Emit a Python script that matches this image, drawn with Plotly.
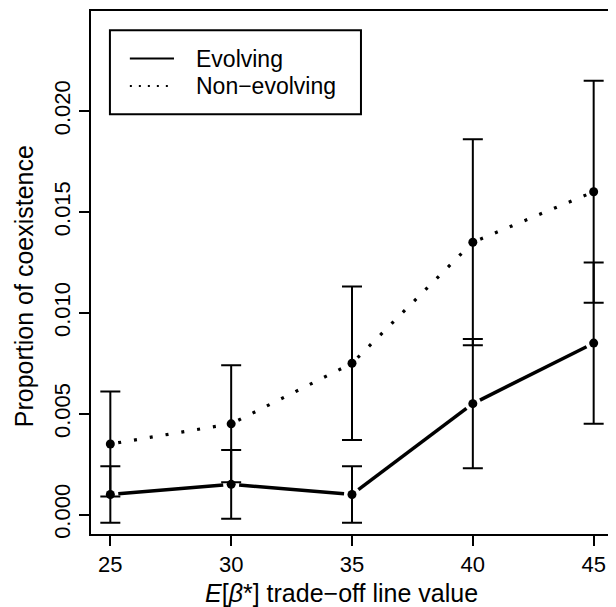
import math
import plotly.graph_objects as go

# ---- data ----
trade_off = [25, 30, 35, 40, 45]
evolving = [0.0010, 0.0015, 0.0010, 0.0055, 0.0085]
evolving_err = [0.0014, 0.0017, 0.0014, 0.0032, 0.0040]
non_evolving = [0.0035, 0.0045, 0.0075, 0.0135, 0.0160]
non_evolving_err = [0.0026, 0.0029, 0.0038, 0.0051, 0.0055]
y_ticks = [0.000, 0.005, 0.010, 0.015, 0.020]
y_tick_text = ["0.000", "0.005", "0.010", "0.015", "0.020"]
x_ticks = [25, 30, 35, 40, 45]
series_names = ["Evolving", "Non\u2212evolving"]

# ---- layout geometry (page has an 8px body margin) ----
OFF = 8
FIG_W, FIG_H = 608, 599
M_L, M_R, M_T, M_B = 83, 1, 1, 73
PW = FIG_W - M_L - M_R
PH = FIG_H - M_T - M_B
XR = [24.2, 45.8]
YR = [-0.00096, 0.02496]
FONT = "Liberation Sans, Arial, Helvetica, sans-serif"
FS_TICK = 22
FS_LEG = 23
FS_TITLE = 25


def px(page_x):
    return (page_x - OFF - M_L) / PW


def py(page_y):
    return 1 - (page_y - OFF - M_T) / PH


def gapped(xs, ys, gap=8.0):
    """Line segments between points, leaving a gap around each point (R type='b')."""
    sx = PW / (XR[1] - XR[0])
    sy = PH / (YR[1] - YR[0])
    ox, oy = [], []
    for i in range(len(xs) - 1):
        x0, y0, x1, y1 = xs[i], ys[i], xs[i + 1], ys[i + 1]
        L = math.hypot((x1 - x0) * sx, (y1 - y0) * sy)
        if L <= 2 * gap:
            continue
        f = gap / L
        ox += [x0 + f * (x1 - x0), x1 - f * (x1 - x0), None]
        oy += [y0 + f * (y1 - y0), y1 - f * (y1 - y0), None]
    return ox, oy


fig = go.Figure()

ex, ey = gapped(trade_off, evolving)
nx, ny = gapped(trade_off, non_evolving)

fig.add_trace(go.Scatter(x=ex, y=ey, mode="lines", name=series_names[0], showlegend=False,
                         line=dict(color="black", width=3.5), connectgaps=False))
fig.add_trace(go.Scatter(x=nx, y=ny, mode="lines", name=series_names[1], showlegend=False,
                         line=dict(color="black", width=3.2, dash="3px,13px"),
                         connectgaps=False))

fig.add_trace(go.Scatter(x=trade_off, y=non_evolving, mode="markers", showlegend=False,
                         marker=dict(color="black", size=9),
                         error_y=dict(type="data", array=non_evolving_err, symmetric=True,
                                      color="black", thickness=2, width=10)))
fig.add_trace(go.Scatter(x=trade_off, y=evolving, mode="markers", showlegend=False,
                         marker=dict(color="black", size=9),
                         error_y=dict(type="data", array=evolving_err, symmetric=True,
                                      color="black", thickness=2, width=10)))

# legend (R-style box)
legend_shapes = [
    dict(type="rect", xref="paper", yref="paper", x0=px(110), x1=px(362),
         y0=py(112.7), y1=py(28.3), line=dict(color="black", width=2),
         fillcolor="white", layer="above"),
    dict(type="line", xref="paper", yref="paper", x0=px(130), x1=px(174.3),
         y0=py(56.7), y1=py(56.7), line=dict(color="black", width=2), layer="above"),
    dict(type="line", xref="paper", yref="paper", x0=px(130), x1=px(174.3),
         y0=py(84.3), y1=py(84.3), line=dict(color="black", width=2, dash="2px,7px"),
         layer="above"),
]
legend_text = [
    dict(text=series_names[0], xref="paper", yref="paper", x=px(194), y=py(56.7),
         xanchor="left", yanchor="middle", showarrow=False,
         font=dict(family=FONT, size=FS_LEG)),
    dict(text=series_names[1], xref="paper", yref="paper", x=px(194), y=py(84.3),
         xanchor="left", yanchor="middle", showarrow=False,
         font=dict(family=FONT, size=FS_LEG)),
]

fig.update_layout(
    width=FIG_W, height=FIG_H,
    margin=dict(l=M_L, r=M_R, t=M_T, b=M_B, pad=0),
    paper_bgcolor="white", plot_bgcolor="white",
    font=dict(family=FONT, size=FS_TICK, color="black"),
    showlegend=False,
    xaxis=dict(range=XR, tickmode="array", tickvals=x_ticks, ticks="outside",
               ticklen=10, tickwidth=2, tickcolor="black", showgrid=False, zeroline=False,
               showline=True, linewidth=2, linecolor="black", mirror=True,
               tickfont=dict(family=FONT, size=FS_TICK)),
    yaxis=dict(range=YR, tickmode="array", tickvals=y_ticks, ticktext=y_tick_text,
               ticks="outside", ticklen=10, tickwidth=2, tickcolor="black",
               tickangle=-90, showgrid=False, zeroline=False,
               showline=True, linewidth=2, linecolor="black", mirror=True,
               tickfont=dict(family=FONT, size=FS_TICK)),
    shapes=legend_shapes,
    annotations=legend_text + [
        dict(text="<i>E</i>[<i>\u03b2</i>*] trade\u2212off line value", xref="paper", yref="paper",
             x=px(342), y=py(593), xanchor="center", yanchor="middle",
             showarrow=False, font=dict(family=FONT, size=FS_TITLE)),
        dict(text="Proportion of coexistence", xref="paper", yref="paper",
             x=px(24), y=py(285), xanchor="center", yanchor="middle",
             textangle=-90, showarrow=False, font=dict(family=FONT, size=FS_TITLE)),
    ],
)

fig.write_html("out.html")
